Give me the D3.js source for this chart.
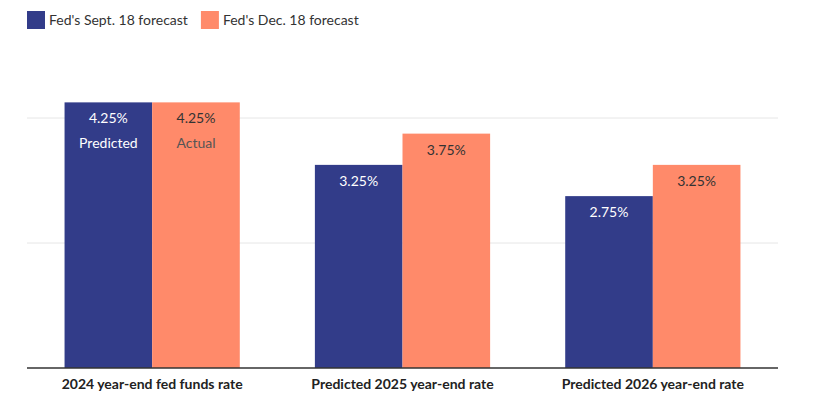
<!DOCTYPE html>
<html>
<head>
<meta charset="utf-8">
<script src="https://cdn.jsdelivr.net/npm/d3@7"></script>
<style>
  body { margin: 0; background: #fff; }
  svg { font-family: Lato, "Noto Sans", sans-serif; }
</style>
</head>
<body>
<div id="chart"></div>
<script>
// chart data
var categories = ["2024 year-end fed funds rate", "Predicted 2025 year-end rate", "Predicted 2026 year-end rate"];
var seriesNames = ["Fed's Sept. 18 forecast", "Fed's Dec. 18 forecast"];
var septValues = [4.25, 3.25, 2.75];
var decValues = [4.25, 3.75, 3.25];
var firstGroupNotes = ["Predicted", "Actual"];
var gridTicks = [0, 2, 4];

var colors = ["#323c89", "#ff8a6a"];
var textColors = ["#ffffff", "#333333"];
var noteColors = ["#ffffff", "#555555"];

var width = 833, height = 414;
var margin = { top: 0, right: 55, bottom: 46, left: 27 };

var svg = d3.select("#chart")
    .append("svg")
    .attr("width", width)
    .attr("height", height);

var x = d3.scaleBand()
    .domain(categories)
    .range([margin.left, width - margin.right])
    .paddingInner(0.3)
    .paddingOuter(0.15);

var xs = d3.scaleBand()
    .domain([0, 1])
    .range([0, x.bandwidth()]);

var y = d3.scaleLinear()
    .domain([0, 4])
    .range([height - margin.bottom, 118]);

// gridlines
svg.append("g")
    .selectAll("line")
    .data(gridTicks.filter(function (d) { return d > 0; }))
    .enter()
    .append("line")
    .attr("x1", margin.left)
    .attr("x2", width - margin.right)
    .attr("y1", function (d) { return y(d); })
    .attr("y2", function (d) { return y(d); })
    .attr("stroke", "#e6e6e6")
    .attr("stroke-width", 1);

var rows = categories.map(function (c, i) {
    return { cat: c, values: [septValues[i], decValues[i]], idx: i };
});

var groups = svg.selectAll(".grp")
    .data(rows)
    .enter()
    .append("g")
    .attr("class", "grp")
    .attr("transform", function (d) { return "translate(" + x(d.cat) + ",0)"; });

var cells = groups.selectAll(".cell")
    .data(function (d) {
        return d.values.map(function (v, s) { return { v: v, s: s, idx: d.idx }; });
    })
    .enter()
    .append("g")
    .attr("class", "cell");

cells.append("rect")
    .attr("x", function (d) { return xs(d.s); })
    .attr("y", function (d) { return y(d.v); })
    .attr("width", xs.bandwidth())
    .attr("height", function (d) { return y(0) - y(d.v); })
    .style("fill", function (d) { return colors[d.s]; });

cells.append("text")
    .attr("x", function (d) { return xs(d.s) + xs.bandwidth() / 2; })
    .attr("y", function (d) { return y(d.v) + 21; })
    .attr("text-anchor", "middle")
    .style("font-size", "14px")
    .style("fill", function (d) { return textColors[d.s]; })
    .text(function (d) { return d3.format(".2f")(d.v) + "%"; });

cells.filter(function (d) { return d.idx === 0; })
    .append("text")
    .attr("x", function (d) { return xs(d.s) + xs.bandwidth() / 2; })
    .attr("y", function (d) { return y(d.v) + 46; })
    .attr("text-anchor", "middle")
    .style("font-size", "14px")
    .style("fill", function (d) { return noteColors[d.s]; })
    .text(function (d) { return firstGroupNotes[d.s]; });

// baseline axis
svg.append("line")
    .attr("x1", margin.left)
    .attr("x2", width - margin.right)
    .attr("y1", y(0))
    .attr("y2", y(0))
    .attr("stroke", "#333")
    .attr("stroke-width", 1.5);

svg.append("g")
    .selectAll("text")
    .data(categories)
    .enter()
    .append("text")
    .attr("x", function (d) { return x(d) + x.bandwidth() / 2; })
    .attr("y", 389)
    .attr("text-anchor", "middle")
    .style("font-size", "14px")
    .style("font-weight", "bold")
    .style("fill", "#222")
    .text(function (d) { return d; });

// legend
var legend = svg.append("g").attr("transform", "translate(27,11)");
var lx = 0;
seriesNames.forEach(function (name, i) {
    var g = legend.append("g").attr("transform", "translate(" + lx + ",0)");
    g.append("rect")
        .attr("width", 18)
        .attr("height", 18)
        .style("fill", colors[i]);
    var t = g.append("text")
        .attr("x", 22)
        .attr("y", 14)
        .style("font-size", "14px")
        .style("fill", "#333")
        .text(name);
    lx += 22 + t.node().getComputedTextLength() + 13;
});
</script>
</body>
</html>
